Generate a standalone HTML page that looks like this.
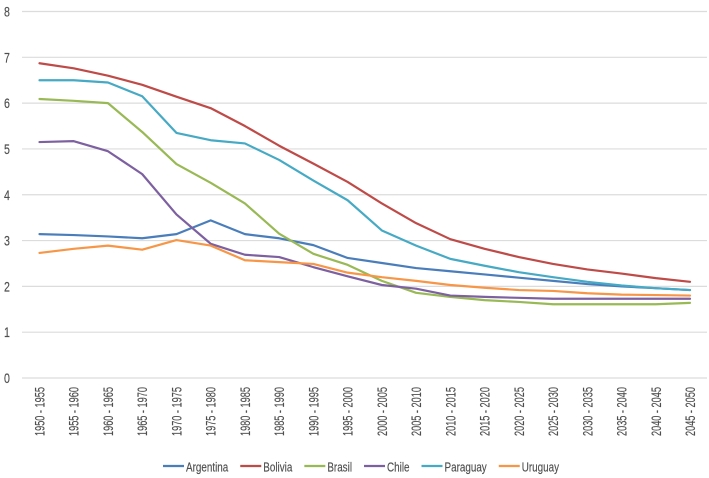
<!DOCTYPE html>
<html lang="es">
<head>
<meta charset="utf-8">
<title>Fertility rate chart</title>
<style>
html,body{margin:0;padding:0;background:#fff;width:709px;height:478px;overflow:hidden}
svg{display:block}
text{font-family:"Liberation Sans",sans-serif;fill:#4f4f4f;stroke:#4f4f4f;stroke-width:0.15px}
</style>
</head>
<body>
<svg id="chart" width="709" height="478" viewBox="0 0 709 478" xmlns="http://www.w3.org/2000/svg">
  <g id="grid"></g>
  <g id="ylabels"></g>
  <g id="xlabels"></g>
  <g id="lines"></g>
  <g id="legend"></g>
</svg>
<script>
const categories = ["1950 - 1955","1955 - 1960","1960 - 1965","1965 - 1970","1970 - 1975","1975 - 1980","1980 - 1985","1985 - 1990","1990 - 1995","1995 - 2000","2000 - 2005","2005 - 2010","2010 - 2015","2015 - 2020","2020 - 2025","2025 - 2030","2030 - 2035","2035 - 2040","2040 - 2045","2045 - 2050"];
const yTicks = [0,1,2,3,4,5,6,7,8];
const seriesNames = ["Argentina","Bolivia","Brasil","Chile","Paraguay","Uruguay"];
const argentina = [3.14,3.12,3.09,3.05,3.14,3.44,3.14,3.05,2.90,2.62,2.51,2.40,2.33,2.26,2.19,2.12,2.05,2.00,1.96,1.92];
const bolivia = [6.87,6.76,6.60,6.40,6.14,5.89,5.50,5.07,4.68,4.28,3.81,3.38,3.03,2.82,2.64,2.49,2.37,2.28,2.18,2.10];
const brasil = [6.09,6.05,6.00,5.37,4.67,4.26,3.81,3.15,2.71,2.47,2.12,1.86,1.77,1.70,1.66,1.61,1.61,1.61,1.61,1.64];
const chile = [5.15,5.17,4.95,4.45,3.57,2.93,2.69,2.64,2.42,2.22,2.03,1.95,1.80,1.77,1.75,1.73,1.73,1.73,1.73,1.73];
const paraguay = [6.50,6.50,6.45,6.15,5.35,5.19,5.12,4.76,4.31,3.88,3.22,2.89,2.60,2.45,2.31,2.20,2.10,2.02,1.96,1.92];
const uruguay = [2.73,2.82,2.89,2.80,3.01,2.89,2.57,2.53,2.49,2.30,2.20,2.12,2.03,1.97,1.92,1.90,1.85,1.82,1.81,1.80];
const seriesValues = [argentina,bolivia,brasil,chile,paraguay,uruguay];
const seriesColors = ["#4a7ebb","#be4b48","#98b954","#7d60a0","#46aac5","#f79646"];

const NS = "http://www.w3.org/2000/svg";
const plot = {left:22, right:707, top:11.5, bottom:378, first:39.5, last:690};
const yMax = 8;
function xScale(i){ return plot.first + i * (plot.last - plot.first) / (categories.length - 1); }
function yScale(v){ return plot.bottom - v * (plot.bottom - plot.top) / yMax; }
function make(tag, parent, attrs){
  const el = document.createElementNS(NS, tag);
  for (const k in attrs) el.setAttribute(k, attrs[k]);
  parent.appendChild(el);
  return el;
}
const grid = document.getElementById("grid");
const ylabels = document.getElementById("ylabels");
const xlabels = document.getElementById("xlabels");
const lines = document.getElementById("lines");
const legend = document.getElementById("legend");

yTicks.forEach(function(t){
  const gl = make("line", grid, {x1:plot.left, x2:plot.right, y1:yScale(t), y2:yScale(t), stroke:"#dcdcdc", "stroke-width":1.2});
  
  
  const lb = make("text", ylabels, {transform:"translate(4," + (yScale(t) + 5) + ") scale(0.76,1)", "font-size":14});
  lb.textContent = t;
  
  
});

categories.forEach(function(c, i){
  const lb = make("text", xlabels, {transform:"translate(" + (xScale(i) + 5) + ",436) rotate(-90) scale(0.655,1)", "font-size":14});
  lb.textContent = c;
  
  
});

seriesValues.forEach(function(vals, s){
  const pts = vals.map(function(v, i){ return xScale(i).toFixed(2) + "," + yScale(v).toFixed(2); }).join(" ");
  const pl = make("polyline", lines, {points:pts, fill:"none", stroke:seriesColors[s], "stroke-width":2.2, "stroke-linejoin":"round", "stroke-linecap":"round"});
  
  
});

let legendX = 163;
seriesNames.forEach(function(n, s){
  const sw = make("line", legend, {x1:legendX, x2:legendX + 21, y1:466, y2:466, stroke:seriesColors[s], "stroke-width":2.2});
  
  
  const tx = make("text", legend, {transform:"translate(" + (legendX + 23) + ",471.5) scale(0.76,1)", "font-size":13});
  tx.textContent = n;
  
  
  legendX += 23 + tx.getComputedTextLength() * 0.76 + 12;
});
</script>
</body>
</html>
